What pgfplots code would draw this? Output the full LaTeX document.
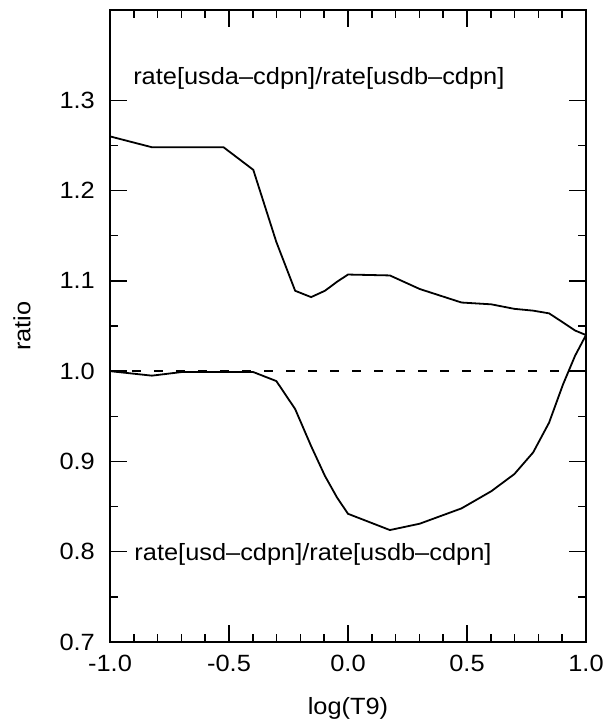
\documentclass[border=0pt]{standalone}
\usepackage{fontspec}
\setmainfont{Liberation Sans}[FakeStretch=1.08]
\usepackage{pgfplots}
\pgfplotsset{compat=1.18}
\begin{document}
\begin{tikzpicture}
\useasboundingbox (-110pt,-81pt) rectangle (493pt,642pt);
\begin{axis}[
  scale only axis,
  width=476pt, height=632pt,
  at={(0,0)}, anchor=south west,
  xmin=-1, xmax=1, ymin=0.7, ymax=1.4,
  xtick={-1,-0.5,0,0.5,1},
  xticklabels={-1.0,-0.5,0.0,0.5,1.0},
  ytick={0.7,0.8,0.9,1.0,1.1,1.2,1.3},
  yticklabels={0.7,0.8,0.9,1.0,1.1,1.2,1.3},
  minor x tick num=4,
  minor y tick num=1,
  major tick length=17pt,
  minor tick length=8pt,
  tick align=inside,
  tick style={line width=1.5pt, black},
  axis line style={line width=1.8pt},
  every tick label/.append style={font=\fontsize{23.5}{28}\selectfont, inner sep=0pt},
  xticklabel style={anchor=north, yshift=-13pt},
  yticklabel style={anchor=east, xshift=-15pt},
  xlabel={log(T9)},
  ylabel={ratio},
  every axis x label/.style={at={(axis description cs:0.5,-0.1044)}, anchor=center, inner sep=0pt, font=\fontsize{23.5}{28}\selectfont},
  every axis y label/.style={at={(axis description cs:-0.185,0.5)}, anchor=center, rotate=90, inner sep=0pt, font=\fontsize{23.5}{28}\selectfont},
  clip=false,
]
% upper curve: rate[usda-cdpn]/rate[usdb-cdpn]
\addplot[black, line width=1.8pt] coordinates {
(-1.000,1.260) (-0.824,1.248) (-0.699,1.248) (-0.523,1.248) (-0.398,1.223)
(-0.301,1.143) (-0.222,1.089) (-0.155,1.082) (-0.097,1.089) (-0.046,1.099)
(0.000,1.107) (0.176,1.106) (0.301,1.091) (0.477,1.076) (0.602,1.074)
(0.699,1.069) (0.778,1.067) (0.845,1.064) (0.903,1.054) (0.954,1.045) (1.000,1.040)
};
% lower curve: rate[usd-cdpn]/rate[usdb-cdpn]
\addplot[black, line width=1.8pt] coordinates {
(-1.000,1.000) (-0.824,0.995) (-0.699,0.999) (-0.523,0.999) (-0.398,0.999)
(-0.301,0.989) (-0.222,0.958) (-0.155,0.917) (-0.097,0.884) (-0.046,0.860)
(0.000,0.842) (0.176,0.824) (0.301,0.831) (0.477,0.848) (0.602,0.867)
(0.699,0.886) (0.778,0.910) (0.845,0.943) (0.903,0.985) (0.954,1.017) (1.000,1.040)
};
% reference line
\addplot[black, line width=1.4pt, dash pattern=on 9pt off 13pt] coordinates {(-1,1) (1,1)};
\node[anchor=west, inner sep=0pt, font=\fontsize{23.5}{28}\selectfont] at (axis cs:-0.903,1.324) {rate[usda–cdpn]/rate[usdb–cdpn]};
\node[anchor=west, inner sep=0pt, font=\fontsize{23.5}{28}\selectfont] at (axis cs:-0.898,0.797) {rate[usd–cdpn]/rate[usdb–cdpn]};
\end{axis}
\end{tikzpicture}
\end{document}
